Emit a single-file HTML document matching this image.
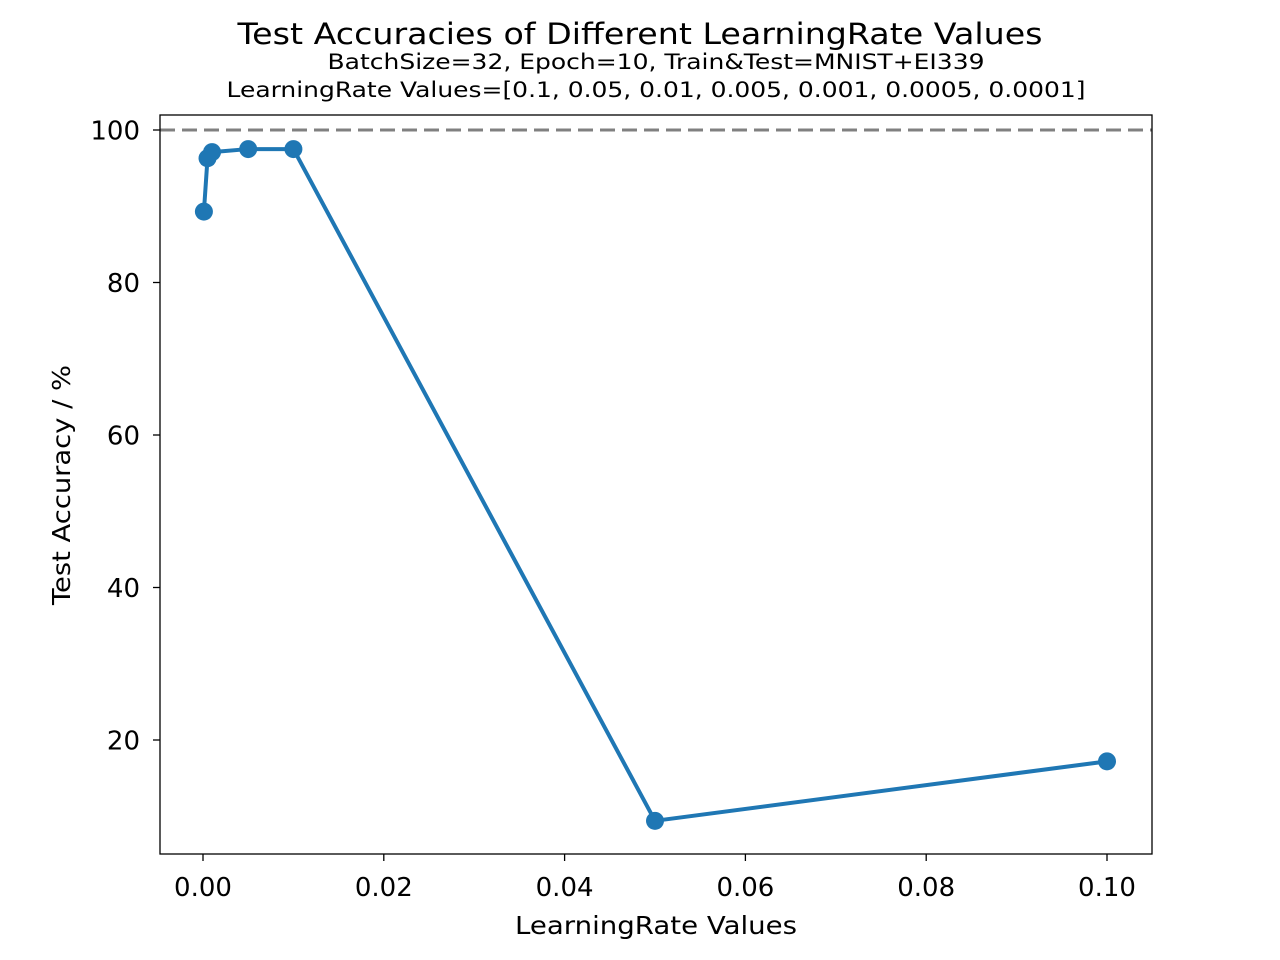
<!DOCTYPE html>
<html><head><meta charset="utf-8"><style>body{margin:0;background:#fff}svg{display:block;font-family:"DejaVu Sans","Liberation Sans",sans-serif}</style></head>
<body>
<svg id="chart" width="1280" height="960">
<text x="640" y="44" text-anchor="middle" font-size="29" textLength="805" lengthAdjust="spacingAndGlyphs">Test Accuracies of Different LearningRate Values</text>
<text x="656" y="69" text-anchor="middle" font-size="21" textLength="657" lengthAdjust="spacingAndGlyphs">BatchSize=32, Epoch=10, Train&amp;Test=MNIST+EI339</text>
<text x="656" y="97" text-anchor="middle" font-size="21" textLength="859" lengthAdjust="spacingAndGlyphs">LearningRate Values=[0.1, 0.05, 0.01, 0.005, 0.001, 0.0005, 0.0001]</text>
<g id="ticks"></g>
<line x1="160" y1="130" x2="1152" y2="130" stroke="#808080" stroke-width="3" stroke-dasharray="15,7"/>
<g id="series"></g>
<rect x="160" y="115" width="992" height="739" fill="none" stroke="#000" stroke-width="1.3"/>
<text x="656" y="934" text-anchor="middle" font-size="25" textLength="282" lengthAdjust="spacingAndGlyphs">LearningRate Values</text>
<text transform="translate(70,485) rotate(-90)" text-anchor="middle" font-size="25" textLength="240" lengthAdjust="spacingAndGlyphs">Test Accuracy / %</text>
</svg>
<script>
const lrValues = [0.1, 0.05, 0.01, 0.005, 0.001, 0.0005, 0.0001];
const accValues = [17.2, 9.4, 97.5, 97.5, 97.1, 96.3, 89.3];
const xTicks = [0, 0.02, 0.04, 0.06, 0.08, 0.1];
const xTickLabels = ["0.00", "0.02", "0.04", "0.06", "0.08", "0.10"];
const yTicks = [20, 40, 60, 80, 100];
const xs = v => 203 + v * 9040;
const ys = v => 892.5 - v * 7.625;
const NS = "http://www.w3.org/2000/svg";
const tg = document.getElementById('ticks');
function mk(tag, attrs, parent) { const e = document.createElementNS(NS, tag); for (const k in attrs) e.setAttribute(k, attrs[k]); parent.appendChild(e); return e; }
xTicks.forEach((t, i) => {
  const l = mk('line', {x1: xs(t), x2: xs(t), y1: 854, y2: 861, stroke: '#000', 'stroke-width': 1.3}, tg);
  
  
  const tx = mk('text', {x: xs(t), y: 896, 'text-anchor': 'middle', 'font-size': 26}, tg);
  tx.textContent = xTickLabels[i];
  
  
});
yTicks.forEach(t => {
  const l = mk('line', {x1: 153, x2: 160, y1: ys(t), y2: ys(t), stroke: '#000', 'stroke-width': 1.3}, tg);
  
  
  const tx = mk('text', {x: 140, y: ys(t) + 9.5, 'text-anchor': 'end', 'font-size': 26}, tg);
  tx.textContent = String(t);
  
  
});
const sg = document.getElementById('series');
const pts = lrValues.map((v, i) => xs(v) + ',' + ys(accValues[i])).join(' ');
const pl = mk('polyline', {points: pts, fill: 'none', stroke: '#1f77b4', 'stroke-width': 4, 'stroke-linejoin': 'round'}, sg);


lrValues.forEach((v, i) => {
  const c = mk('circle', {cx: xs(v), cy: ys(accValues[i]), r: 9, fill: '#1f77b4'}, sg);
  
  
});
</script>
</body></html>
